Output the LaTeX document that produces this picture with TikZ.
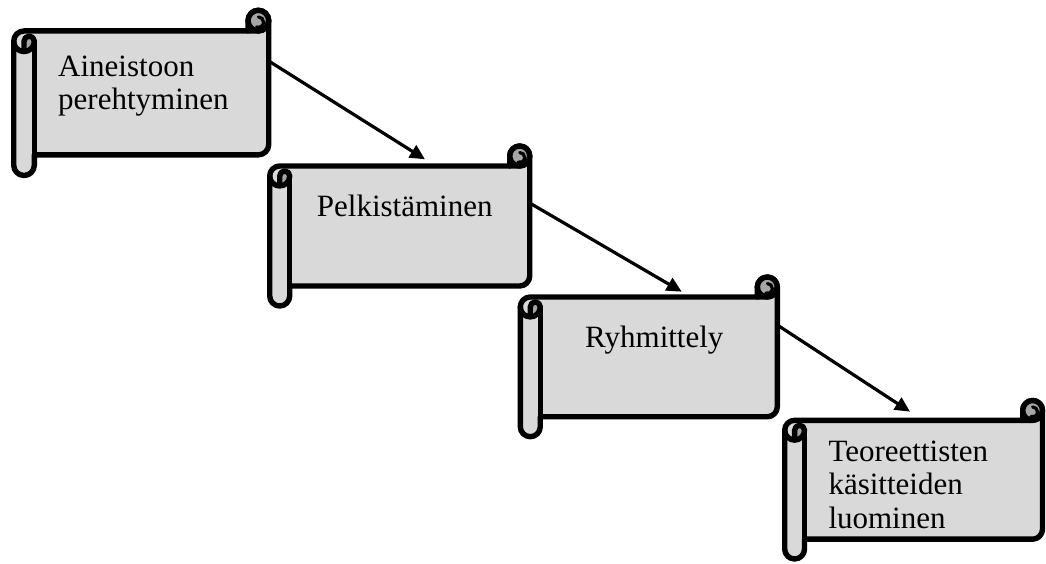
\documentclass[tikz,border=0pt]{standalone}
\usepackage{fontspec}
\setmainfont{Liberation Serif}
\usetikzlibrary{arrows.meta,calc}

\definecolor{paper}{HTML}{D9D9D9}
\definecolor{rollshade}{HTML}{A6A6A6}

\tikzset{
  scrollbody/.style={fill=paper, draw=black, line width=5.4pt, line join=round},
  scrollline/.style={draw=black, line width=5.4pt, line join=round, line cap=round},
  curlline/.style={draw=black, line width=3.2pt, line cap=round},
  frame/.style={rectangle, inner sep=0pt, outer sep=0pt},
  flow/.style={draw=black, line width=3.2pt, -{Triangle[length=15pt,width=14pt]}},
  lbl/.style={font=\fontsize{31}{33.5}\selectfont, align=left, inner sep=0pt, anchor=base west}
}

% Horizontal scroll: #1 name, #2 left, #3 top, #4 right, #5 bottom (y grows downward)
\newcommand\drawscroll[5]{%
  \pgfmathsetmacro\scW{#4-#2}%
  \pgfmathsetmacro\scH{#5-#3}%
  \pgfmathsetmacro\scC{0.125*min(\scW,\scH)}%
  \pgfmathsetmacro\scD{\scC/2}%
  \pgfmathsetmacro\scQ{\scC/4}%
  \node[frame, minimum width=\scW pt, minimum height=\scH pt, anchor=north west] (#1) at (#2,#3) {};
  \begin{scope}[shift={(#2,#3)}]
    % sheet with both rolls
    \path[scrollbody] (0,\scC+\scD) arc[start angle=180,delta angle=90,radius=\scD]
      -- (\scW-\scC,\scC) -- (\scW-\scC,\scD)
      arc[start angle=180,delta angle=180,radius=\scD]
      -- (\scW,\scH-\scC-\scD)
      arc[start angle=0,delta angle=90,radius=\scD]
      -- (\scC,\scH-\scC) -- (\scC,\scH-\scD)
      arc[start angle=0,delta angle=180,radius=\scD] -- cycle;
    % shaded insides of the curls
    \fill[rollshade] (\scD,2*\scC) arc[start angle=90,delta angle=-90,radius=\scD]
      arc[start angle=0,delta angle=-180,radius=\scQ] -- cycle;
    \fill[rollshade] (\scW-\scD,\scD) circle[radius=\scD];
    % curl outlines
    \draw[scrollline] (\scW-\scC,\scC) -- (\scW-\scD,\scC) arc[start angle=90,delta angle=-90,radius=\scD];
    \draw[scrollline] (\scW-\scD,\scD) circle[radius=\scD];
    \draw[curlline] (\scW-\scD,\scD+1.5) ++(-90:\scQ) arc[start angle=-90,delta angle=200,radius=\scQ];
    \draw[scrollline] (\scD,2*\scC) -- (\scD,\scC+\scD) arc[start angle=180,delta angle=180,radius=\scQ]
      arc[start angle=0,delta angle=180,radius=\scD];
    \draw[scrollline] (\scC,\scC+\scD) -- (\scC,\scH-\scC);
  \end{scope}
}

\begin{document}
\begin{tikzpicture}[x=1pt,y=-1pt]
  \useasboundingbox (0,0) rectangle (1046,564);

  \drawscroll{s1}{13.7}{10.3}{268.7}{175.5}
  \drawscroll{s2}{269.7}{146}{529.7}{306}
  \drawscroll{s3}{520.3}{277}{777.3}{436.7}
  \drawscroll{s4}{784.7}{400.5}{1042.5}{559}

  \node[lbl] (t1) at (58,110) {Aineistoon\\perehtyminen};
  \node[lbl] (t2) at (316.7,216) {Pelkistäminen};
  \node[lbl] (t3) at (585,347.3) {Ryhmittely};
  \node[lbl] (t4) at (828.3,528.3) {Teoreettisten\\käsitteiden\\luominen};

  \draw[flow] ($(s1.north east)+(0,50.7)$) -- ($(s2.north west)+(155.3,13.3)$);
  \draw[flow] ($(s2.north east)+(0,57)$) -- ($(s3.north west)+(161.4,14.7)$);
  \draw[flow] ($(s3.north east)+(0,48)$) -- ($(s4.north west)+(125.3,11.2)$);
\end{tikzpicture}
\end{document}
